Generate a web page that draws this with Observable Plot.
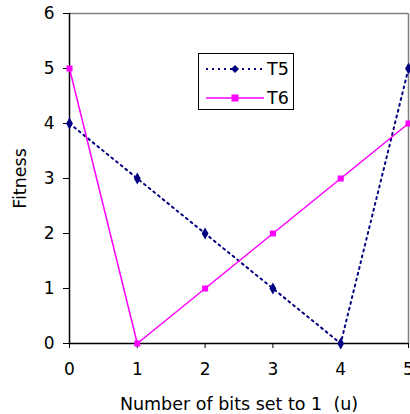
<!DOCTYPE html>
<html>
<head>
<meta charset="utf-8">
<script src="https://cdn.jsdelivr.net/npm/d3@7"></script>
<script src="https://cdn.jsdelivr.net/npm/@observablehq/plot@0.6"></script>
<style>
  html, body { margin: 0; padding: 0; background: #fff; }
  #wrap { position: relative; width: 410px; height: 414px; font-family: "DejaVu Sans", sans-serif; }
  #wrap svg g[aria-label="x-axis tick label"] text, #wrap svg g[aria-label="y-axis tick label"] text { font-size: 17px; }
  #wrap svg g[aria-label="x-axis label"] text, #wrap svg g[aria-label="y-axis label"] text { font-size: 17.5px; }
  #legend { position: absolute; left: 198px; top: 53px; width: 96px; height: 57px; border: 1px solid #000; background: #fff; box-sizing: border-box; }
  #legend .row { position: absolute; left: 0; height: 20px; display: flex; align-items: center; font-size: 17.5px; color: #000; }
  #legend svg { margin-left: 7px; margin-right: 3px; }
</style>
</head>
<body>
<div id="wrap"></div>
<script>
const bits = [0, 1, 2, 3, 4, 5];
const t5 = [4, 3, 2, 1, 0, 5];
const t6 = [5, 0, 1, 2, 3, 4];
const xTicks = [0, 1, 2, 3, 4, 5];
const yTicks = [0, 1, 2, 3, 4, 5, 6];
const seriesNames = ["T5", "T6"];
const colors = {T5: "#000080", T6: "#FF00FF"};

const d5 = bits.map((b, i) => ({u: b, f: t5[i]}));
const d6 = bits.map((b, i) => ({u: b, f: t6[i]}));

const chart = Plot.plot({
  width: 410,
  height: 414,
  marginLeft: 69,
  marginRight: 2,
  marginTop: 13,
  marginBottom: 71,
  style: {fontFamily: "'DejaVu Sans', sans-serif", fontSize: "17px", color: "#000", background: "#fff"},
  x: {domain: [0, 5]},
  y: {domain: [0, 6]},
  marks: [
    Plot.ruleY([6], {stroke: "#808080", strokeWidth: 1.5}),
    Plot.ruleX([5], {stroke: "#808080", strokeWidth: 1.5}),
    Plot.axisX({ticks: xTicks, tickSize: 5, tickPadding: 14, tickFormat: d => String(d), stroke: "#000", strokeOpacity: 1,
      label: "Number of bits set to 1\u00a0\u00a0(u)", labelAnchor: "center", labelArrow: "none", labelOffset: 66}),
    Plot.axisY({ticks: yTicks, tickSize: 6, tickPadding: 9, tickFormat: d => String(d), stroke: "#000", strokeOpacity: 1,
      label: "Fitness", labelAnchor: "center", labelArrow: "none", labelOffset: 56}),
    Plot.ruleX([0], {stroke: "#000", strokeWidth: 1.5}),
    Plot.ruleY([0], {stroke: "#000", strokeWidth: 1.5}),
    Plot.line(d5, {x: "u", y: "f", stroke: colors.T5, strokeWidth: 2, strokeDasharray: "2,4"}),
    Plot.line(d6, {x: "u", y: "f", stroke: colors.T6, strokeWidth: 1.5}),
    Plot.dot(d5, {x: "u", y: "f", symbol: "diamond", fill: colors.T5, r: 3.6}),
    Plot.dot(d6, {x: "u", y: "f", symbol: "square", fill: colors.T6, r: 3.4})
  ]
});
const wrap = document.getElementById("wrap");
wrap.appendChild(chart);

// legend
const leg = document.createElement("div");
leg.id = "legend";
seriesNames.forEach((name, i) => {
  const row = document.createElement("div");
  row.className = "row";
  row.style.top = (i === 0 ? 5 : 34) + "px";
  const dash = name === "T5" ? 'stroke-dasharray="2,4" stroke-width="2"' : 'stroke-width="1.5"';
  const marker = name === "T5"
    ? `<path d="M29,6 L33,10 L29,14 L25,10 Z" fill="${colors[name]}"/>`
    : `<rect x="25.5" y="6.5" width="7" height="7" fill="${colors[name]}"/>`;
  row.innerHTML = `<svg width="58" height="20"><line x1="0" x2="58" y1="10" y2="10" stroke="${colors[name]}" ${dash}/>${marker}</svg><span>${name}</span>`;
  leg.appendChild(row);
});
wrap.appendChild(leg);
</script>
</body>
</html>
